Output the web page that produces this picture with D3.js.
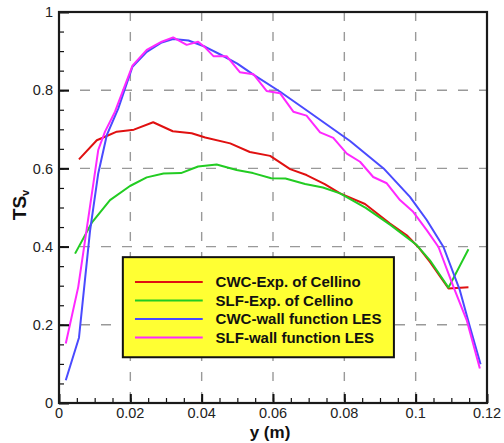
<!DOCTYPE html>
<html>
<head>
<meta charset="utf-8">
<script src="https://cdn.jsdelivr.net/npm/d3@7"></script>
<style>
  body { margin: 0; background: #fff; }
  svg { display: block; font-family: "Liberation Sans", Arial, sans-serif; }
</style>
</head>
<body>
<svg class="chart"></svg>
<script>
var W = 504, H = 443;
var margin = {top: 12, right: 17, bottom: 40, left: 59},
    width = W - margin.left - margin.right,
    height = H - margin.top - margin.bottom;

// y (m), TS_v pairs
var cwcExp = [[0.0056,0.623],[0.0106,0.672],[0.0129,0.681],[0.0162,0.694],[0.021,0.699],[0.0264,0.718],
  [0.0319,0.695],[0.0372,0.690],[0.041,0.679],[0.048,0.664],[0.0535,0.642],[0.0592,0.632],[0.0648,0.598],
  [0.0694,0.583],[0.0745,0.560],[0.0788,0.536],[0.0858,0.509],[0.0928,0.459],[0.0975,0.429],[0.1007,0.399],
  [0.104,0.361],[0.1092,0.293],[0.1148,0.296]];
var slfExp = [[0.0045,0.382],[0.0092,0.461],[0.0143,0.519],[0.0199,0.555],[0.0246,0.577],[0.0293,0.587],
  [0.0342,0.588],[0.039,0.605],[0.0442,0.610],[0.0498,0.596],[0.0544,0.588],[0.0595,0.575],[0.0635,0.574],
  [0.069,0.560],[0.074,0.551],[0.0788,0.536],[0.086,0.499],[0.093,0.455],[0.1003,0.404],[0.104,0.365],
  [0.1092,0.295],[0.1148,0.393]];
var cwcLes = [[0.0019,0.058],[0.0056,0.167],[0.0087,0.44],[0.011,0.587],[0.0134,0.685],[0.0166,0.753],
  [0.0206,0.86],[0.0246,0.898],[0.0288,0.922],[0.032,0.931],[0.0363,0.927],[0.041,0.911],[0.0455,0.890],
  [0.05,0.868],[0.0545,0.840],[0.062,0.796],[0.07,0.745],[0.0816,0.670],[0.091,0.60],[0.0984,0.527],
  [0.1031,0.468],[0.1078,0.399],[0.1124,0.288],[0.1152,0.195],[0.1182,0.099]];
var slfLes = [[0.0019,0.152],[0.0054,0.297],[0.011,0.647],[0.0129,0.694],[0.0157,0.745],[0.0206,0.863],
  [0.0246,0.903],[0.0288,0.924],[0.032,0.935],[0.0358,0.916],[0.039,0.924],[0.041,0.909],[0.0433,0.887],
  [0.047,0.887],[0.0507,0.846],[0.0545,0.841],[0.0582,0.798],[0.062,0.792],[0.0657,0.745],[0.0694,0.735],
  [0.0732,0.692],[0.0769,0.678],[0.0807,0.638],[0.0844,0.617],[0.0881,0.578],[0.0919,0.562],[0.0956,0.519],
  [0.0993,0.489],[0.1031,0.442],[0.1064,0.399],[0.1106,0.297],[0.1143,0.212],[0.118,0.088]];

var seriesNames = ["CWC-Exp. of Cellino", "SLF-Exp. of Cellino", "CWC-wall function LES", "SLF-wall function LES"];
var seriesColors = ["#e01010", "#22cc22", "#4a4aff", "#ff28ff"];
var seriesData = [cwcExp, slfExp, cwcLes, slfLes];

var xTicks = [0, 0.02, 0.04, 0.06, 0.08, 0.1, 0.12];
var yTicks = [0, 0.2, 0.4, 0.6, 0.8, 1];

var x = d3.scaleLinear().domain([0, 0.12]).range([0, width]);
var y = d3.scaleLinear().domain([0, 1]).range([height, 0]);

var svg = d3.select(".chart").attr("width", W).attr("height", H);
var chart = svg.append("g")
    .attr("transform", "translate(" + margin.left + "," + margin.top + ")");

// grid
chart.selectAll(".vgrid")
  .data(xTicks.slice(1, -1))
  .enter().append("line")
    .attr("x1", x).attr("x2", x)
    .attr("y1", 0).attr("y2", height)
    .attr("stroke", "#999").attr("stroke-width", 1.4)
    .attr("stroke-dasharray", "9,11");
chart.selectAll(".hgrid")
  .data(yTicks.slice(1, -1))
  .enter().append("line")
    .attr("y1", y).attr("y2", y)
    .attr("x1", 0).attr("x2", width)
    .attr("stroke", "#999").attr("stroke-width", 1.4)
    .attr("stroke-dasharray", "10,11");

// curves
var line = d3.line()
    .x(function(d) { return x(d[0]); })
    .y(function(d) { return y(d[1]); });

chart.selectAll(".serie")
  .data(seriesData)
  .enter().append("path")
    .attr("class", "serie")
    .attr("fill", "none")
    .attr("stroke", function(d, i) { return seriesColors[i]; })
    .attr("stroke-width", 2)
    .attr("stroke-linejoin", "round")
    .attr("d", line);

// inward ticks
var xAxis = d3.axisTop(x).tickValues(xTicks).tickSize(9).tickFormat("");
var xMinor = d3.axisTop(x).tickValues(d3.range(0.005, 0.12, 0.005)).tickSize(5).tickFormat("");
var yAxis = d3.axisRight(y).tickValues(yTicks).tickSize(10).tickFormat("");
var yMinor = d3.axisRight(y).tickValues(d3.range(0.05, 1, 0.05)).tickSize(5).tickFormat("");

[[xMinor, 1.2], [xAxis, 2]].forEach(function(a) {
  var g = chart.append("g").attr("transform", "translate(0," + height + ")").call(a[0]);
  g.select(".domain").remove();
  g.selectAll("line").attr("stroke", "#111").attr("stroke-width", a[1]);
});
[[yMinor, 1.2], [yAxis, 2]].forEach(function(a) {
  var g = chart.append("g").call(a[0]);
  g.select(".domain").remove();
  g.selectAll("line").attr("stroke", "#111").attr("stroke-width", a[1]);
});

// frame
chart.append("rect")
    .attr("width", width).attr("height", height)
    .attr("fill", "none").attr("stroke", "#1a1a1a").attr("stroke-width", 2.2);

// tick labels
chart.selectAll(".xlab")
  .data(xTicks)
  .enter().append("text")
    .attr("x", x).attr("y", height + 15)
    .attr("text-anchor", "middle")
    .style("font-size", "14.5px").attr("fill", "#222")
    .text(function(d) { return d3.format("")(d); });
chart.selectAll(".ylab")
  .data(yTicks)
  .enter().append("text")
    .attr("x", -6).attr("y", function(d) { return y(d); })
    .attr("dy", "0.36em")
    .attr("text-anchor", "end")
    .style("font-size", "14.5px").attr("fill", "#222")
    .text(function(d) { return d3.format("")(d); });

// axis titles
svg.append("text")
    .attr("x", margin.left + width / 2 - 3).attr("y", 438)
    .attr("text-anchor", "middle")
    .style("font-size", "17px").style("font-weight", "bold").attr("fill", "#111")
    .text("y (m)");

var yt = svg.append("text")
    .attr("transform", "translate(26,205) rotate(-90)")
    .attr("text-anchor", "middle")
    .style("font-size", "19px").style("font-weight", "bold").attr("fill", "#111");
yt.append("tspan").text("TS");
yt.append("tspan").attr("dy", "0.25em").style("font-size", "11px").text("v");

// legend
var legend = chart.append("g");
legend.append("rect")
    .attr("x", x(0.0179)).attr("y", y(0.373))
    .attr("width", x(0.0939) - x(0.0179)).attr("height", y(0.117) - y(0.373))
    .attr("fill", "#ffff33").attr("stroke", "#111").attr("stroke-width", 2);

var items = legend.selectAll(".item")
  .data(seriesNames)
  .enter().append("g")
    .attr("transform", function(d, i) { return "translate(0," + (270 + i * 18.5) + ")"; });
items.append("line")
    .attr("x1", x(0.0213)).attr("x2", x(0.0403))
    .attr("stroke", function(d, i) { return seriesColors[i]; })
    .attr("stroke-width", 2);
items.append("text")
    .attr("x", x(0.0439)).attr("dy", "0.36em")
    .style("font-size", "15px").style("font-weight", "bold").attr("fill", "#111")
    .text(function(d) { return d; });
</script>
</body>
</html>
